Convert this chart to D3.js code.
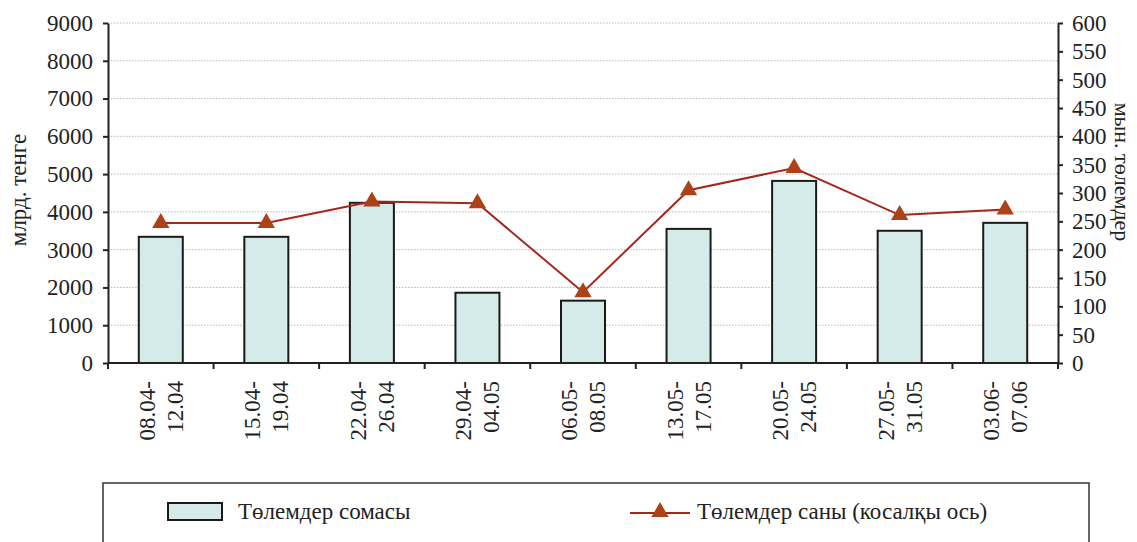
<!DOCTYPE html>
<html>
<head>
<meta charset="utf-8">
<script src="https://cdn.jsdelivr.net/npm/d3@7"></script>
<style>
  body { margin: 0; background: #fff; }
  svg text { font-family: "Liberation Serif", "Times New Roman", serif; fill: #222; }
</style>
</head>
<body>
<svg id="chart" width="1137" height="542"></svg>
<script>
// Weekly periods
const periods = [
  ["08.04-", "12.04"], ["15.04-", "19.04"], ["22.04-", "26.04"],
  ["29.04-", "04.05"], ["06.05-", "08.05"], ["13.05-", "17.05"],
  ["20.05-", "24.05"], ["27.05-", "31.05"], ["03.06-", "07.06"]
];
// Payment amount, bn tenge (left axis)
const paymentSum = [3340, 3340, 4240, 1860, 1650, 3550, 4820, 3500, 3710];
// Payment count, thousand payments (right axis)
const paymentCount = [247, 247, 285, 282, 125, 305, 344, 261, 271];

const leftTicks = [0, 1000, 2000, 3000, 4000, 5000, 6000, 7000, 8000, 9000];
const rightTicks = [0, 50, 100, 150, 200, 250, 300, 350, 400, 450, 500, 550, 600];

const svg = d3.select("#chart");
const m = { left: 108, right: 1058, top: 23, bottom: 363 };
const FS = "23px";

const xBand = d3.scaleBand().domain(d3.range(periods.length)).range([m.left, m.right]);
const cx = i => xBand(i) + xBand.bandwidth() / 2;
const yL = d3.scaleLinear().domain([0, 9000]).range([m.bottom, m.top]);
const yR = d3.scaleLinear().domain([0, 600]).range([m.bottom, m.top]);

// Dotted gridlines
svg.append("g").selectAll("line").data(leftTicks.slice(1)).join("line")
  .attr("x1", m.left).attr("x2", m.right)
  .attr("y1", d => yL(d)).attr("y2", d => yL(d))
  .attr("stroke", "#b8b8b8").attr("stroke-width", 1).attr("stroke-dasharray", "1.5,1.5");

// Bars
svg.append("g").selectAll("rect").data(paymentSum).join("rect")
  .attr("x", (d, i) => cx(i) - 22)
  .attr("width", 44)
  .attr("y", d => yL(d))
  .attr("height", d => yL(0) - yL(d))
  .attr("fill", "#d4ebe9").attr("stroke", "#1a1a1a").attr("stroke-width", 2);

// Axes
const axisStyle = g => {
  g.selectAll("path, line").attr("stroke", "#222").attr("stroke-width", 2);
  g.selectAll("text").style("font-size", FS).attr("fill", "#222");
};
svg.append("g").attr("transform", `translate(${m.left},0)`)
  .call(d3.axisLeft(yL).tickValues(leftTicks).tickSize(5).tickSizeOuter(0).tickPadding(10).tickFormat(d3.format("d")))
  .call(axisStyle);
svg.append("g").attr("transform", `translate(${m.right},0)`)
  .call(d3.axisRight(yR).tickValues(rightTicks).tickSize(5).tickSizeOuter(0).tickPadding(9).tickFormat(d3.format("d")))
  .call(axisStyle);

// Category axis with ticks at band boundaries
const xAxis = svg.append("g").attr("transform", `translate(0,${m.bottom})`);
xAxis.append("line").attr("x1", m.left).attr("x2", m.right).attr("stroke", "#222").attr("stroke-width", 2);
xAxis.selectAll("line.tick").data(d3.range(periods.length + 1)).join("line").attr("class", "tick")
  .attr("x1", i => m.left + i * xBand.step()).attr("x2", i => m.left + i * xBand.step())
  .attr("y1", 0).attr("y2", 6).attr("stroke", "#222").attr("stroke-width", 2);
const lbl = xAxis.selectAll("g.lbl").data(periods).join("g").attr("class", "lbl")
  .attr("transform", (d, i) => `translate(${cx(i)},18) rotate(-90)`);
lbl.append("text").attr("text-anchor", "end").attr("x", 0).attr("y", -6).style("font-size", FS).text(d => d[0]);
lbl.append("text").attr("text-anchor", "end").attr("x", 0).attr("y", 22).style("font-size", FS).text(d => d[1]);

// Count line with triangle markers
const line = d3.line().x((d, i) => cx(i)).y(d => yR(d));
svg.append("path").datum(paymentCount).attr("d", line)
  .attr("fill", "none").attr("stroke", "#a3281c").attr("stroke-width", 2);
const tri = d3.symbol().type(d3.symbolTriangle).size(130);
svg.append("g").selectAll("path").data(paymentCount).join("path")
  .attr("d", tri)
  .attr("transform", (d, i) => `translate(${cx(i)},${yR(d)})`)
  .attr("fill", "#ad4218");

// Axis titles
svg.append("text").attr("transform", "translate(26,190) rotate(-90)")
  .attr("text-anchor", "middle").style("font-size", FS).text("млрд. тенге");
svg.append("text").attr("transform", "translate(1115,172) rotate(90)")
  .attr("text-anchor", "middle").style("font-size", "22px").text("мын. төлемдер");

// Legend
const lg = svg.append("g");
lg.append("rect").attr("x", 103).attr("y", 483).attr("width", 986).attr("height", 80)
  .attr("fill", "none").attr("stroke", "#333").attr("stroke-width", 1.5);
lg.append("rect").attr("x", 168).attr("y", 503).attr("width", 54).attr("height", 17)
  .attr("fill", "#d4ebe9").attr("stroke", "#1a1a1a").attr("stroke-width", 2);
lg.append("text").attr("x", 238).attr("y", 519).style("font-size", FS).text("Төлемдер сомасы");
lg.append("line").attr("x1", 630).attr("x2", 690).attr("y1", 513).attr("y2", 513)
  .attr("stroke", "#a3281c").attr("stroke-width", 2);
lg.append("path").attr("d", tri).attr("transform", "translate(660,512)").attr("fill", "#ad4218");
lg.append("text").attr("x", 697).attr("y", 519).style("font-size", FS).text("Төлемдер саны (косалқы ось)");
</script>
</body>
</html>
